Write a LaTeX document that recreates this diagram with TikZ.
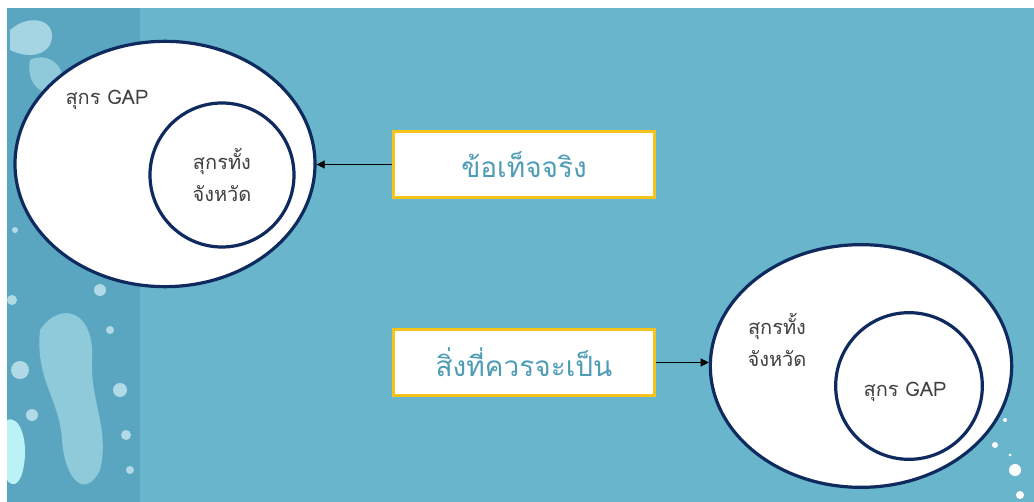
\documentclass[tikz,border=0pt]{standalone}
\usepackage{fontspec}
\setmainfont{Liberation Sans}
\newfontfamily\thaifont[Script=Thai]{Loma}
\usetikzlibrary{shapes.geometric,arrows.meta}
\definecolor{sea}{HTML}{69B5CC}
\definecolor{deepsea}{HTML}{5AA6C0}
\definecolor{foam}{HTML}{8FCADB}
\definecolor{navy}{HTML}{0E2A5E}
\definecolor{gold}{HTML}{F6C21C}
\definecolor{tealtext}{HTML}{4E9CB6}
\begin{document}
\begin{tikzpicture}[x=0.75pt,y=-0.75pt,>={Triangle[length=6pt,width=6pt]},
  ring/.style={draw=navy,line width=2.4pt,fill=white,inner sep=0pt},
  setbox/.style={draw=gold,line width=2.4pt,fill=white,minimum width=196pt,minimum height=50pt,font=\thaifont\fontsize{21}{24}\selectfont,text=tealtext},
  lbl/.style={font=\thaifont\fontsize{15}{24}\selectfont,align=center,text=black!75}]
\useasboundingbox (0,0) rectangle (1034,502);
\fill[sea](7,8) rectangle (1034,502);
\fill[deepsea](7,8) rectangle (140,502);
\fill[foam](40,330)..controls(60,300)and(95,310)..(92,360)..controls(90,400)and(110,430)..(100,470)..controls(85,500)and(65,480)..(62,440)..controls(60,400)and(35,380)..(40,330);
\fill[foam!80!white](10,30)..controls(30,12)and(60,20)..(50,45)..controls(40,60)and(20,55)..(10,50)--cycle;
\fill[foam](30,60)..controls(50,50)and(70,70)..(60,90)..controls(45,100)and(25,85)..(30,60);
\fill[foam!60!cyan!40!white](7,420)..controls(20,415)and(28,440)..(24,465)..controls(20,490)and(10,485)..(7,480)--cycle;
\foreach \x/\y/\r in {20/370/9,32/415/6,12/300/5,120/390/7,126/435/5,110/330/4,100/290/6,75/250/4,115/245/5,28/160/4,50/210/3,130/470/4,15/230/3}
  \fill[foam!70!white](\x,\y) circle (\r);
\foreach \x/\y/\r in {1015/470/6,995/445/3,1005/420/2,1020/495/4,985/425/1.5,1010/455/1.5}
  \fill[white](\x,\y) circle (\r);
\node[ring,ellipse,minimum width=225pt,minimum height=184pt](factbig) at (165,164){};
\node[ring,circle,minimum size=108pt](factin) at (222,175){};
\node[lbl](factout) at (107,100){สุกร GAP};
\node[lbl](factinlbl) at (222,175){สุกรทั้ง\\จังหวัด};
\node[ring,ellipse,minimum width=226pt,minimum height=182pt](idealbig) at (861,366){};
\node[ring,circle,minimum size=110pt](idealin) at (909,386){};
\node[lbl](idealout) at (777,340){สุกรทั้ง\\จังหวัด};
\node[lbl](idealinlbl) at (905,392){สุกร GAP};
\node[setbox](factbox) at (524,164.5){ข้อเท็จจริง};
\node[setbox](idealbox) at (524,362.5){สิ่งที่ควรจะเป็น};
\draw[->](factbox.west)--(factbox.west-|factbig.east);
\draw[->](idealbox.east)--(idealbox.east-|idealbig.west);
\end{tikzpicture}
\end{document}
